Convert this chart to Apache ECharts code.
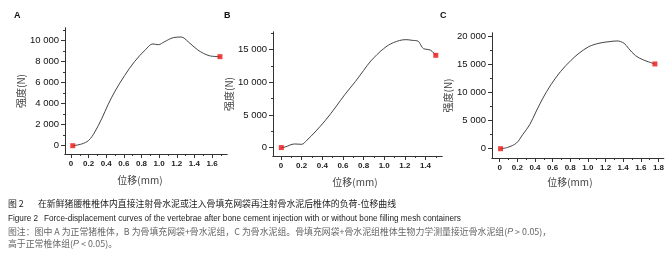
<!DOCTYPE html>
<html>
<head>
<meta charset="utf-8">
<script src="https://cdn.jsdelivr.net/npm/echarts@6/dist/echarts.min.js"></script>
<style>
  html, body { margin: 0; padding: 0; background: #fff; }
  #main { width: 667px; height: 261px; }
</style>
</head>
<body>
<div id="main"></div>
<script>
// Panel A - normal vertebra
const aX = [0.02, 0.12, 0.20, 0.27, 0.35, 0.42, 0.50, 0.61, 0.72, 0.84, 0.93, 0.99, 1.06, 1.16, 1.25, 1.33, 1.44, 1.57, 1.69];
const aY = [0, 160, 500, 1300, 2600, 3900, 5200, 6700, 8000, 9100, 9690, 9620, 9900, 10290, 10350, 9900, 9110, 8570, 8480];
// Panel B - mesh container + cement
const bX = [0.003, 0.04, 0.13, 0.20, 0.25, 0.33, 0.43, 0.53, 0.62, 0.72, 0.80, 0.87, 0.995, 1.09, 1.21, 1.27, 1.33, 1.36, 1.38, 1.45, 1.50];
const bY = [0, 90, 550, 500, 1120, 2390, 4170, 6210, 8150, 10100, 11800, 13250, 15150, 16070, 16520, 16420, 16260, 15540, 15150, 14890, 14120];
// Panel C - cement only
const cX = [0.01, 0.09, 0.19, 0.26, 0.34, 0.41, 0.49, 0.58, 0.69, 0.81, 0.90, 1.01, 1.125, 1.24, 1.33, 1.41, 1.46, 1.54, 1.63, 1.76];
const cY = [0, 230, 1000, 2480, 4250, 6500, 8970, 11330, 13690, 15700, 16940, 18100, 18710, 18990, 19120, 18710, 17820, 16510, 15750, 15040];

// tick labels
const aXTicks = [0, 0.2, 0.4, 0.6, 0.8, 1.0, 1.2, 1.4, 1.6];
const aXMinor = [0.1, 0.3, 0.5, 0.7, 0.9, 1.1, 1.3, 1.5, 1.7];
const aYTicks = [0, 2000, 4000, 6000, 8000, 10000];
const aYMinor = [1000, 3000, 5000, 7000, 9000, 11000];
const bXTicks = [0, 0.2, 0.4, 0.6, 0.8, 1.0, 1.2, 1.4];
const bXMinor = [0.1, 0.3, 0.5, 0.7, 0.9, 1.1, 1.3, 1.5];
const bYTicks = [0, 5000, 10000, 15000];
const bYMinor = [2500, 7500, 12500, 17500];
const cXTicks = [0, 0.2, 0.4, 0.6, 0.8, 1.0, 1.2, 1.4, 1.6, 1.8];
const cXMinor = [0.1, 0.3, 0.5, 0.7, 0.9, 1.1, 1.3, 1.5, 1.7];
const cYTicks = [0, 5000, 10000, 15000, 20000];
const cYMinor = [2500, 7500, 12500, 17500];

const panelLetters = ['A', 'B', 'C'];
const yName = '强度(N)';
const xName = '位移(mm)';

const caption1a = '图 2';
const caption1b = '在新鲜猪腰椎椎体内直接注射骨水泥或注入骨填充网袋再注射骨水泥后椎体的负荷-位移曲线';
const caption2a = 'Figure 2';
const caption2b = 'Force-displacement curves of the vertebrae after bone cement injection with or without bone filling mesh containers';
const note1 = '图注：图中 A 为正常猪椎体，B 为骨填充网袋+骨水泥组，C 为骨水泥组。骨填充网袋+骨水泥组椎体生物力学测量接近骨水泥组({i|P} > 0.05)，';
const note2 = '高于正常椎体组({i|P} < 0.05)。';

(function() {
  const axisColor = '#333';
  const labelFont = 'Arial, "Liberation Sans", sans-serif';
  const cjkFont = '"Noto Sans CJK SC", sans-serif';

  const panels = [
    { x: aX, y: aY, xt: aXTicks, xm: aXMinor, yt: aYTicks, ym: aYMinor,
      xr: [-0.068, 1.77], yr: [-790, 11210],
      grid: { left: 65, top: 28, width: 162, height: 126 }, yGap: 35, xGap: 21, xPad: 12, letterX: 14 },
    { x: bX, y: bY, xt: bXTicks, xm: bXMinor, yt: bYTicks, ym: bYMinor,
      xr: [-0.078, 1.56], yr: [-1290, 17690],
      grid: { left: 273, top: 32, width: 169, height: 124 }, yGap: 35, xGap: 21, xPad: 5, letterX: 224 },
    { x: cX, y: cY, xt: cXTicks, xm: cXMinor, yt: cYTicks, ym: cYMinor,
      xr: [-0.087, 1.86], yr: [-1650, 20530],
      grid: { left: 492, top: 33, width: 173, height: 125 }, yGap: 38, xGap: 19, xPad: 16, letterX: 440 }
  ];

  const fmtY = (v) => {
    const s = String(Math.round(v));
    return s.length > 3 ? s.slice(0, s.length - 3) + ' ' + s.slice(-3) : s;
  };
  const fmtX = (v) => (Math.abs(v) < 1e-9 ? '0' : Number(v).toFixed(1));

  const grid = [], xAxis = [], yAxis = [], series = [], graphic = [];

  panels.forEach((p, i) => {
    grid.push(p.grid);
    // main x axis
    xAxis.push({
      type: 'value', gridIndex: i, position: 'bottom', min: p.xr[0], max: p.xr[1],
      name: xName, nameLocation: 'middle', nameGap: p.xGap,
      nameTextStyle: { fontFamily: cjkFont, fontSize: 10, color: '#444', padding: [0, p.xPad, 0, 0] },
      axisLine: { show: true, onZero: false, lineStyle: { color: axisColor, width: 1 } },
      axisTick: { show: true, length: 4, customValues: p.xt, lineStyle: { color: axisColor } },
      axisLabel: { customValues: p.xt, formatter: fmtX, margin: 6, fontSize: 8, fontWeight: 'bold',
        color: '#222', fontFamily: labelFont },
      splitLine: { show: false }
    });
    // minor x ticks (overlay axis, line drawn on top of the main one)
    xAxis.push({
      type: 'value', gridIndex: i, position: 'bottom', offset: 0, min: p.xr[0], max: p.xr[1],
      axisLine: { show: true, onZero: false, lineStyle: { color: axisColor, width: 1 } },
      axisTick: { show: true, length: 2, customValues: p.xm, lineStyle: { color: axisColor } },
      axisLabel: { show: false },
      splitLine: { show: false }
    });
    // main y axis
    yAxis.push({
      type: 'value', gridIndex: i, position: 'left', min: p.yr[0], max: p.yr[1],
      name: yName, nameLocation: 'middle', nameGap: p.yGap, nameRotate: 90,
      nameTextStyle: { fontFamily: cjkFont, fontSize: 10, color: '#444' },
      axisLine: { show: true, onZero: false, lineStyle: { color: axisColor, width: 1 } },
      axisTick: { show: true, length: 4, customValues: p.yt, lineStyle: { color: axisColor } },
      axisLabel: { customValues: p.yt, formatter: fmtY, margin: 6, fontSize: 9.5,
        color: '#111', fontFamily: labelFont },
      splitLine: { show: false }
    });
    // minor y ticks
    yAxis.push({
      type: 'value', gridIndex: i, position: 'left', offset: 0, min: p.yr[0], max: p.yr[1],
      axisLine: { show: true, onZero: false, lineStyle: { color: axisColor, width: 1 } },
      axisTick: { show: true, length: 2, customValues: p.ym, lineStyle: { color: axisColor } },
      axisLabel: { show: false },
      splitLine: { show: false }
    });

    const pts = p.x.map((v, k) => [v, p.y[k]]);
    series.push({
      type: 'line', xAxisIndex: 2 * i, yAxisIndex: 2 * i,
      data: pts, smooth: 0.35, symbol: 'none',
      lineStyle: { color: '#444', width: 1 }
    });
    series.push({
      type: 'scatter', xAxisIndex: 2 * i, yAxisIndex: 2 * i,
      data: [pts[0], pts[pts.length - 1]], symbol: 'rect', symbolSize: 5,
      itemStyle: { color: '#ee1111' }, z: 5
    });

    graphic.push({
      type: 'text', left: p.letterX, top: 11,
      style: { text: panelLetters[i], font: 'bold 9px Arial, "Liberation Sans", sans-serif', fill: '#111' }
    });
  });

  // captions
  const italicP = { i: { fontStyle: 'italic', fontSize: 8.9, fontFamily: labelFont, fill: '#666' } };
  graphic.push(
    { type: 'text', left: 8, top: 199, style: { text: caption1a, font: '8.9px ' + cjkFont, fill: '#222' } },
    { type: 'text', left: 38, top: 199, style: { text: caption1b, font: '8.9px ' + cjkFont, fill: '#222' } },
    { type: 'text', left: 8, top: 215, style: { text: caption2a, font: '8.2px ' + labelFont, fill: '#222' } },
    { type: 'text', left: 44, top: 215, style: { text: caption2b, font: '8.2px ' + labelFont, fill: '#222' } },
    { type: 'text', left: 8, top: 227, style: { text: note1, font: '8.9px ' + cjkFont, fill: '#666', rich: italicP } },
    { type: 'text', left: 8, top: 239, style: { text: note2, font: '8.9px ' + cjkFont, fill: '#666', rich: italicP } }
  );

  const option = {
    backgroundColor: '#fff',
    animation: false,
    grid: grid,
    xAxis: xAxis,
    yAxis: yAxis,
    series: series,
    graphic: graphic
  };

  const chart = echarts.init(document.getElementById('main'));
  chart.setOption(option);
  window.addEventListener('resize', () => chart.resize());
})();
</script>
</body>
</html>
